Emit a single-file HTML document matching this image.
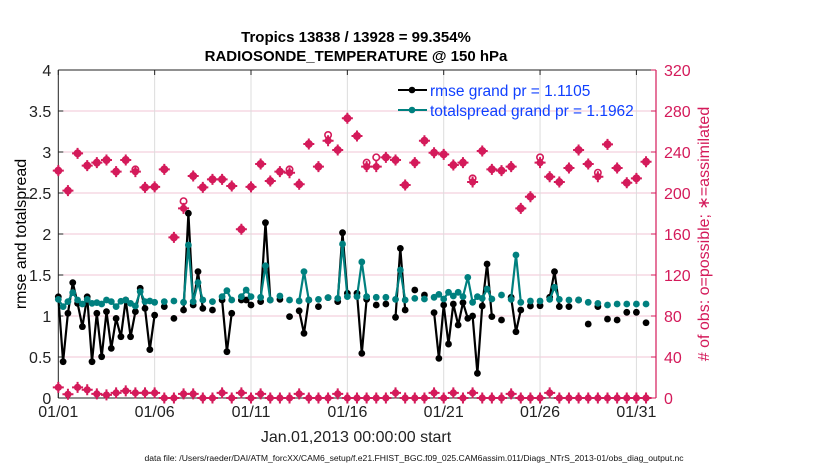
<!DOCTYPE html>
<html><head><meta charset="utf-8"><style>
body{margin:0;background:#fff;}
svg{display:block;font-family:"Liberation Sans",Arial,sans-serif;}
</style></head><body>
<svg id="chart" width="830" height="470" viewBox="0 0 830 470">
<rect width="830" height="470" fill="#fff"/>
<text x="356" y="42" text-anchor="middle" font-size="15" font-weight="bold">Tropics 13838 / 13928 = 99.354%</text>
<text x="356" y="61" text-anchor="middle" font-size="15" font-weight="bold">RADIOSONDE_TEMPERATURE @ 150 hPa</text>
<g id="grid"></g>
<g id="axes"></g>
<g id="marks"></g>
<g>
<line x1="398" y1="90" x2="427" y2="90" stroke="#000" stroke-width="2"/>
<circle cx="412" cy="90" r="3.3" fill="#000"/>
<text x="430" y="96" font-size="15.5" fill="#1040ff">rmse grand pr = 1.1105</text>
<line x1="398" y1="110" x2="427" y2="110" stroke="#00807f" stroke-width="2"/>
<circle cx="412" cy="110" r="3.3" fill="#00807f"/>
<text x="430" y="116" font-size="15.5" fill="#1040ff">totalspread grand pr = 1.1962</text>
</g>
<text transform="translate(26,234) rotate(-90)" text-anchor="middle" font-size="16">rmse and totalspread</text>
<text transform="translate(709,234) rotate(-90)" text-anchor="middle" font-size="16" fill="#d41a5a"># of obs: o=possible; ∗=assimilated</text>
<text x="356" y="442" text-anchor="middle" font-size="16" fill="#222">Jan.01,2013 00:00:00 start</text>
<text x="414" y="461" text-anchor="middle" font-size="8.6" fill="#111">data file: /Users/raeder/DAI/ATM_forcXX/CAM6_setup/f.e21.FHIST_BGC.f09_025.CAM6assim.011/Diags_NTrS_2013-01/obs_diag_output.nc</text>
</svg>
<script>
const rmse=[1.235,0.443,1.033,1.407,1.154,0.870,1.235,0.443,1.033,0.504,1.053,0.605,0.97,0.748,1.195,0.748,1.053,1.338,1.093,0.59,1.01,null,1.114,null,0.971,null,1.073,2.252,1.134,1.541,1.093,null,1.073,null,1.195,0.565,1.033,null,1.195,1.195,1.134,null,1.175,2.138,1.195,null,1.203,null,0.992,null,1.063,0.789,1.195,null,1.114,null,1.224,null,1.175,2.016,1.277,null,1.277,0.544,1.203,null,1.134,null,1.146,null,0.984,1.825,1.073,null,1.317,null,1.256,null,1.041,0.483,1.134,0.658,1.146,0.890,1.163,0.971,1.0,0.301,1.122,1.634,0.992,null,0.951,null,1.228,0.808,1.073,null,1.122,null,1.126,null,1.228,1.541,1.114,null,1.114,null,1.195,null,0.902,null,1.114,null,0.963,null,0.951,null,1.045,null,1.045,null,0.918,null];
const spread=[1.203,1.114,1.175,1.285,1.195,1.146,1.203,1.154,1.163,1.146,1.195,1.175,1.114,1.18,1.195,1.154,1.122,1.297,1.175,1.183,1.167,null,1.175,null,1.183,null,1.167,1.866,1.175,1.407,1.195,null,1.175,null,1.236,1.309,1.195,null,1.236,1.317,1.236,null,1.228,1.613,1.195,null,1.244,null,1.195,null,1.183,1.541,1.195,null,1.203,null,1.224,null,1.215,1.878,1.236,null,1.236,1.659,1.236,null,1.228,null,1.228,null,1.203,1.561,1.195,null,1.215,null,1.207,null,1.228,1.264,1.207,1.289,1.244,1.289,1.236,1.471,1.167,1.236,1.215,1.329,1.207,null,1.256,null,1.203,1.744,1.167,null,1.183,null,1.183,null,1.203,1.350,1.203,null,1.195,null,1.195,null,1.167,null,1.154,null,1.134,null,1.146,null,1.146,null,1.146,null,1.146,null];
const assimilated=[221.8,202.3,238.7,226.7,229.6,232.2,220.8,232.2,220.8,205.5,206,223.1,156.7,185,216.6,205.5,213.3,213.3,206.8,164.6,206,228.3,211.7,220.8,219.8,208.5,247.8,225.7,251,242,272.9,255.6,225.7,225.7,234.8,232.2,207.8,229.6,251,239.3,237.7,227.3,229.6,210.7,241,223.1,221.8,225.7,185,196.4,229.6,215.9,210.7,224.4,242,228.3,215.9,247.5,224.4,210,214.3,230.5];
const possible=[221.8,202.3,238.7,226.7,229.6,232.2,220.8,232.2,223,205.5,206,223.1,156.7,192,216.6,205.5,213.3,213.3,206.8,164.6,206,228.3,211.7,220.8,223,208.5,247.8,225.7,256.6,242,272.9,255.6,229.6,234.8,234.8,232.2,207.8,229.6,251,239.3,237.7,227.3,229.6,214.3,241,223.1,221.8,225.7,185,196.4,234.8,215.9,210.7,224.4,242,228.3,219.8,247.5,224.4,210,214.3,230.5];
const lowCounts=[10.4,3.6,10.4,8,4,3,5,7,5,5,5,0,0,4,4,0,0,5,0,5,0,4,0,0,0,4,0,0,0,4,0,0,0,0,0,5,0,0,0,5,0,5,0,5,0,0,0,4,0,0,0,5,0,0,0,0,0,0,0,0,0,0];
const dateLabels=["01/01","01/06","01/11","01/16","01/21","01/26","01/31"];
const dateDays=[0,5,10,15,20,25,30];
const leftTicks=[0,0.5,1,1.5,2,2.5,3,3.5,4];
const rightTicks=[0,40,80,120,160,200,240,280,320];

const NS="http://www.w3.org/2000/svg";
const X0=58.3,X1=656,Y0=398,Y1=70,PX_DAY=19.27;
const xs=d=>X0+d*PX_DAY;
const yl=v=>Y0-(v/4)*(Y0-Y1);
const yr=v=>Y0-(v/320)*(Y0-Y1);
const MAG="#d41a5a";
function mk(tag,attrs,parent){const e=document.createElementNS(NS,tag);for(const k in attrs)e.setAttribute(k,attrs[k]);parent.appendChild(e);return e;}
const grid=document.getElementById('grid'),axes=document.getElementById('axes'),marks=document.getElementById('marks');
leftTicks.forEach(v=>{if(v>0&&v<4){const l=mk('line',{x1:X0,x2:X1,y1:yl(v),y2:yl(v),stroke:'#f2c6d6','stroke-width':1},grid);

}});
dateDays.forEach(d=>{if(d>0){const l=mk('line',{x1:xs(d),x2:xs(d),y1:Y1,y2:Y0,stroke:'#dcdcdc','stroke-width':1},grid);

}});
mk('line',{x1:X0,x2:X1,y1:Y1,y2:Y1,stroke:'#222','stroke-width':1},axes);
mk('line',{x1:X0,x2:X1,y1:Y0,y2:Y0,stroke:'#222','stroke-width':1},axes);
mk('line',{x1:X0,x2:X0,y1:Y1,y2:Y0,stroke:'#222','stroke-width':1},axes);
mk('line',{x1:X1,x2:X1,y1:Y1,y2:Y0,stroke:MAG,'stroke-width':1.2},axes);
leftTicks.forEach(v=>{mk('line',{x1:X0,x2:X0+5,y1:yl(v),y2:yl(v),stroke:'#222'},axes);
const t=mk('text',{x:X0-7,y:yl(v)+6,'text-anchor':'end','font-size':16,fill:'#222'},axes);t.textContent=v;

});
rightTicks.forEach(v=>{mk('line',{x1:X1-5,x2:X1,y1:yr(v),y2:yr(v),stroke:MAG},axes);
const t=mk('text',{x:X1+8,y:yr(v)+6,'font-size':16,fill:MAG},axes);t.textContent=v;

});
dateDays.forEach((d,i)=>{mk('line',{x1:xs(d),x2:xs(d),y1:Y0,y2:Y0-5,stroke:'#222'},axes);mk('line',{x1:xs(d),x2:xs(d),y1:Y1,y2:Y1+5,stroke:'#222'},axes);
const t=mk('text',{x:xs(d),y:Y0+19,'text-anchor':'middle','font-size':16,fill:'#222'},axes);t.textContent=dateLabels[i];

});
function series(arr,color,name){
  const g=mk('g',{},marks);
  
  
  let d='';
  arr.forEach((v,i)=>{if(v==null)return;const x=xs(i*0.25),y=yl(v);
    d+=(i>0&&arr[i-1]!=null?'L':'M')+x.toFixed(1)+' '+y.toFixed(1);});
  mk('path',{d:d,fill:'none',stroke:color,'stroke-width':2.2},g);
  arr.forEach((v,i)=>{if(v==null)return;mk('circle',{cx:xs(i*0.25),cy:yl(v),r:3.4,fill:color},g);});
}
function obsMarks(arr,kind,name){
  const g=mk('g',{},marks);
  
  
  arr.forEach((v,k)=>{const x=xs(k*0.5),y=yr(v);
    if(kind==='o'){mk('circle',{cx:x,cy:y,r:3.2,fill:'none',stroke:MAG,'stroke-width':1.6},g);}
    else{mk('circle',{cx:x,cy:y,r:3.6,fill:MAG},g);
      mk('path',{d:`M${x-5.5} ${y}H${x+5.5}M${x} ${y-5.5}V${y+5.5}`,stroke:MAG,'stroke-width':2},g);}
  });
}
obsMarks(possible,'o','possible-obs');
obsMarks(assimilated,'*','assimilated-obs');
obsMarks(lowCounts,'*','low-obs-counts');
series(rmse,'#000','rmse-series');
series(spread,'#00807f','totalspread-series');
</script>
</body></html>
